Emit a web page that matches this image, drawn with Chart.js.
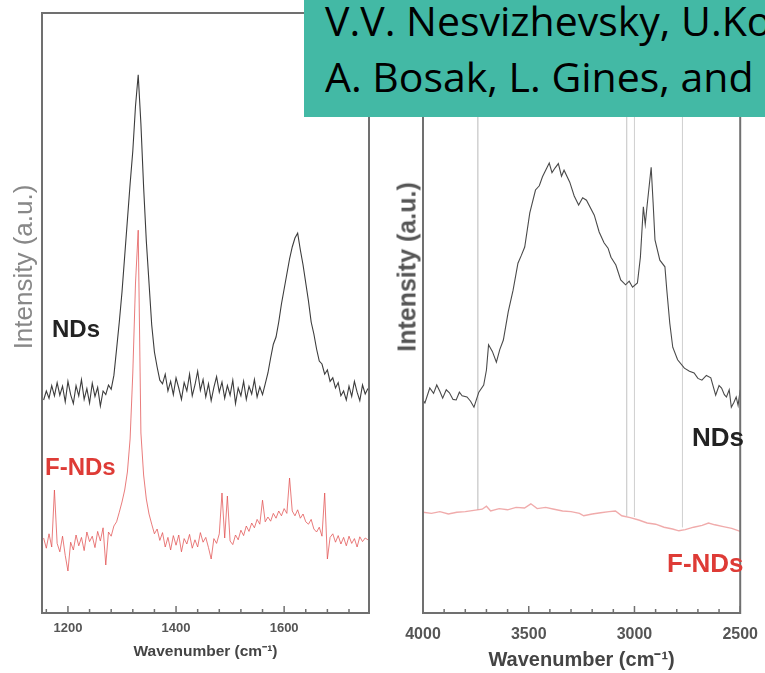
<!DOCTYPE html>
<html>
<head>
<meta charset="utf-8">
<script src="https://cdn.jsdelivr.net/npm/chart.js@4.4.1/dist/chart.umd.min.js"></script>
<style>
  html, body { margin: 0; padding: 0; background: #fff; overflow: hidden; }
  body { width: 765px; height: 673px; position: relative; font-family: 'Liberation Sans', Arial, sans-serif; }
  .panel { position: absolute; top: 0; height: 673px; }
  #leftWrap { left: 0; width: 380px; }
  #rightWrap { left: 380px; width: 390px; }
  .ytitle { position: absolute; white-space: nowrap; transform: translate(-50%, -50%) rotate(-90deg); }
  .tag { position: absolute; font-weight: bold; white-space: nowrap; line-height: 1; }
  #banner { position: absolute; left: 304px; top: 0; width: 461px; height: 117px; background: #43b9a5;
            overflow: hidden; font-family: 'Open Sans', sans-serif; font-size: 41px; color: #000; }
  #banner div { position: absolute; left: 21px; white-space: nowrap; line-height: 41px; }
</style>
</head>
<body>
<div class="panel" id="leftWrap"><canvas id="ramanChart"></canvas></div>
<div class="panel" id="rightWrap"><canvas id="irChart"></canvas></div>

<div class="ytitle" style="left:23px; top:267px; font-size:26px; color:#888;">Intensity (a.u.)</div>
<div class="ytitle" style="left:407px; top:267px; font-size:25px; font-weight:bold; color:#555;">Intensity (a.u.)</div>

<div class="tag" style="left:52px; top:317px; font-size:24px; color:#222;">NDs</div>
<div class="tag" style="left:45px; top:455px; font-size:24px; color:#de3b36;">F-NDs</div>
<div class="tag" style="left:692px; top:424px; font-size:26px; color:#222;">NDs</div>
<div class="tag" style="left:667px; top:550px; font-size:26px; color:#de3b36;">F-NDs</div>

<div id="banner">
  <div style="top:0px;">V.V. Nesvizhevsky, U.Ko</div>
  <div style="top:56px;">A. Bosak, L. Gines, and</div>
</div>

<script>
// Raman panel (left)
const ramanWn = [1155,1160,1165,1170,1175,1180,1185,1190,1195,1200,
  1205,1210,1215,1220,1225,1230,1235,1240,1245,1250,
  1255,1260,1265,1270,1275,1280,1285,1290,1295,1300,
  1305,1310,1315,1320,1325,1330,1335,1340,1345,1350,
  1355,1360,1365,1370,1375,1380,1385,1390,1395,1400,
  1405,1410,1415,1420,1425,1430,1435,1440,1445,1450,
  1455,1460,1465,1470,1475,1480,1485,1490,1495,1500,
  1505,1510,1515,1520,1525,1530,1535,1540,1545,1550,
  1555,1560,1565,1570,1575,1580,1585,1590,1595,1600,
  1605,1610,1615,1620,1625,1630,1635,1640,1645,1650,
  1655,1660,1665,1670,1675,1680,1685,1690,1695,1700,
  1705,1710,1715,1720,1725,1730,1735,1740,1745,1750,
  1755];
const ramanNds = [35.5,37.0,35.8,37.9,36.2,38.4,36.3,37.8,35.2,38.6,
  36.4,34.9,37.9,36.2,38.9,35.6,37.4,35.0,38.3,36.1,
  37.6,34.5,37.0,36.4,38.0,37.3,39.6,44.0,48.5,53.5,
  59.5,65.5,71.5,77.0,84.5,89.7,81.5,71.0,62.0,55.0,
  48.0,43.5,41.0,38.8,38.2,39.8,37.0,38.6,36.4,39.2,
  37.5,35.6,38.4,37.0,39.8,36.2,38.0,40.3,37.1,38.9,
  36.0,38.2,35.4,37.6,39.4,36.8,38.5,35.8,37.9,36.3,
  38.8,34.9,37.5,36.2,38.6,35.6,37.8,36.5,38.9,36.0,
  37.7,36.4,38.2,40.0,42.5,44.8,46.0,48.5,51.5,54.0,
  56.5,59.0,61.0,62.5,63.3,60.5,58.0,55.0,52.0,48.5,
  46.5,44.0,42.0,41.5,39.8,40.5,38.6,39.2,37.5,38.4,
  36.2,37.0,35.5,37.8,36.1,38.6,36.8,35.4,38.0,36.5,
  37.4];
const ramanFnds = [12.5,10.8,13.2,11.0,20.5,11.6,10.2,12.8,9.6,7.0,
  11.8,10.5,13.0,11.2,12.6,10.4,13.5,11.9,12.8,10.9,
  13.6,12.0,14.2,8.0,13.5,12.8,14.5,15.2,16.8,18.5,
  20.5,23.5,29.0,40.0,55.0,63.8,30.0,23.0,19.0,16.5,
  14.8,13.2,14.0,12.1,13.4,11.0,12.6,10.5,12.9,11.3,
  13.0,10.2,12.4,11.5,13.1,10.8,12.2,11.0,13.4,11.8,
  12.6,10.9,9.0,12.4,11.6,13.2,20.0,12.5,19.5,12.0,
  11.4,13.0,12.2,13.8,12.9,14.5,13.6,15.0,14.2,15.6,
  14.8,18.8,15.2,16.0,15.3,16.6,15.8,17.0,16.2,17.4,
  16.6,22.5,17.0,16.2,17.2,15.8,16.5,15.2,14.8,15.6,
  14.0,13.5,14.3,12.8,20.0,9.0,12.6,13.2,11.8,12.9,
  11.5,12.6,11.2,12.8,11.6,12.4,11.0,12.7,11.9,12.5,
  12.2];
const ramanMajor = [1200, 1400, 1600];
const ramanMinor = [1160,1200,1240,1280,1320,1360,1400,1440,1480,1520,1560,1600,1640,1680,1720];

// IR panel (right)
const irWnNds = [4000,3991,3968,3950,3935,3920,3907,3890,3875,3858,
  3843,3828,3815,3792,3775,3759,3736,3713,3700,3690,
  3672,3653,3637,3620,3597,3574,3551,3535,3519,3495,
  3468,3450,3435,3403,3390,3375,3360,3345,3333,3306,
  3285,3264,3245,3227,3190,3167,3144,3125,3111,3088,
  3065,3042,3025,3009,2986,2972,2958,2949,2940,2921,
  2912,2903,2880,2856,2847,2833,2819,2796,2764,2740,
  2718,2700,2681,2660,2639,2616,2600,2588,2575,2565,
  2552,2542,2530,2519,2510,2500];
const irNds = [35.5,35.0,37.5,36.6,38.0,36.9,35.8,37.2,36.7,35.6,
  35.5,36.8,36.2,36.0,35.3,34.3,36.8,38.0,40.5,44.7,
  43.6,41.8,43.9,45.5,50.2,53.8,58.3,59.6,61.0,66.7,
  70.5,71.2,72.7,75.0,73.4,74.2,74.9,72.8,73.8,71.8,
  69.5,68.0,69.2,68.8,66.3,63.5,61.7,60.8,59.3,58.0,
  55.5,54.7,55.3,54.3,55.0,59.3,67.7,64.8,68.0,74.3,
  68.5,62.2,58.8,57.7,53.8,48.3,44.3,42.2,40.8,40.3,
  40.0,39.1,38.8,39.6,39.2,36.3,37.9,37.5,36.4,36.0,
  37.2,34.3,35.1,36.0,34.6,37.2];
const irWnFnds = [4000,3960,3920,3880,3840,3800,3760,3720,3700,3680,
  3640,3600,3560,3520,3490,3460,3420,3380,3340,3300,
  3260,3240,3200,3160,3120,3090,3060,3020,2980,2940,
  2900,2860,2820,2790,2760,2720,2680,2650,2620,2580,
  2540,2500];
const irFnds = [16.8,16.6,16.9,16.5,16.8,16.9,17.1,17.3,17.8,17.0,
  17.4,17.2,17.6,17.5,18.2,17.4,17.6,17.3,17.0,16.9,
  16.6,16.2,16.5,16.7,16.9,17.0,16.2,15.9,15.5,15.0,
  14.8,14.3,14.0,13.7,13.9,14.3,14.6,15.0,14.7,14.4,
  14.1,13.6];
const irRefWn = [3741, 3037, 3000, 2773];
const irRefEnd = [17.2, 16.2, 16.0, 14.3];
const irMajor = [4000, 3500, 3000, 2500];
const irMinor = [2500,2600,2700,2800,2900,3000,3100,3200,3300,3400,3500,3600,3700,3800,3900,4000];

Chart.defaults.font.family = "'Liberation Sans', Arial, sans-serif";

const pairs = (xs, ys) => xs.map((x, i) => ({ x: x, y: ys[i] }));

// draws the box frame and the inward tick marks
const framePlugin = {
  id: 'frame',
  afterDraw(chart, args, opts) {
    const { ctx, chartArea: a } = chart;
    const xs = chart.scales.x;
    ctx.save();
    ctx.strokeStyle = '#707070';
    ctx.lineWidth = 2;
    ctx.strokeRect(a.left, a.top, a.right - a.left, a.bottom - a.top);
    ctx.lineWidth = 1.5;
    opts.minor.forEach(v => {
      const px = xs.getPixelForValue(v);
      const len = opts.major.includes(v) ? 7 : 4;
      ctx.beginPath();
      ctx.moveTo(px, a.bottom);
      ctx.lineTo(px, a.bottom - len);
      ctx.stroke();
    });
    ctx.restore();
  }
};

function xScale(min, max, reverse, major, tickSize, tickPad, titleSize, titlePad) {
  return {
    type: 'linear', min: min, max: max, reverse: reverse,
    afterFit: s => { s.height = 60; },
    afterBuildTicks: s => { s.ticks = major.map(v => ({ value: v })); },
    grid: { display: false, drawTicks: false },
    border: { display: false },
    ticks: { color: '#555', padding: tickPad, maxRotation: 0, autoSkip: false,
             font: { size: tickSize, weight: 'bold' }, callback: v => String(v) },
    title: { display: true, text: 'Wavenumber (cm\u207B\u00B9)', color: '#444',
             font: { size: titleSize, weight: 'bold' }, padding: { top: 0, bottom: titlePad } }
  };
}

const lineStyle = (color, width, order) => ({
  borderColor: color, borderWidth: width, pointRadius: 0, tension: 0, fill: false, order: order
});

new Chart(document.getElementById('ramanChart'), {
  type: 'line',
  data: {
    datasets: [
      Object.assign({ label: 'NDs', data: pairs(ramanWn, ramanNds) }, lineStyle('#3c3c3c', 1.1, 1)),
      Object.assign({ label: 'F-NDs', data: pairs(ramanWn, ramanFnds) }, lineStyle('rgba(226,80,80,0.75)', 1, 2))
    ]
  },
  options: {
    responsive: true, maintainAspectRatio: false, animation: false,
    layout: { padding: { left: 42, right: 11, top: 13, bottom: 0 } },
    plugins: { legend: { display: false }, tooltip: { enabled: false },
               frame: { major: ramanMajor, minor: ramanMinor } },
    scales: {
      x: xScale(1152, 1757, false, ramanMajor, 13, 8, 15.5, 12),
      y: { display: false, min: 0, max: 100 }
    }
  },
  plugins: [framePlugin]
});

const refSets = irRefWn.map((wn, i) => Object.assign(
  { label: 'ref' + i, data: [{ x: wn, y: 100 }, { x: wn, y: irRefEnd[i] }] },
  lineStyle('#d2d2d2', 1, 5)));

new Chart(document.getElementById('irChart'), {
  type: 'line',
  data: {
    datasets: [
      Object.assign({ label: 'NDs', data: pairs(irWnNds, irNds) }, lineStyle('#4a4a4a', 1.1, 1)),
      Object.assign({ label: 'F-NDs', data: pairs(irWnFnds, irFnds) }, lineStyle('rgba(236,150,150,0.8)', 1.4, 2))
    ].concat(refSets)
  },
  options: {
    responsive: true, maintainAspectRatio: false, animation: false,
    layout: { padding: { left: 43, right: 21, top: 13, bottom: 0 } },
    plugins: { legend: { display: false }, tooltip: { enabled: false },
               frame: { major: irMajor, minor: irMinor } },
    scales: {
      x: xScale(2500, 4000, true, irMajor, 16, 12, 20, 1),
      y: { display: false, min: 0, max: 100 }
    }
  },
  plugins: [framePlugin]
});
</script>
</body>
</html>
